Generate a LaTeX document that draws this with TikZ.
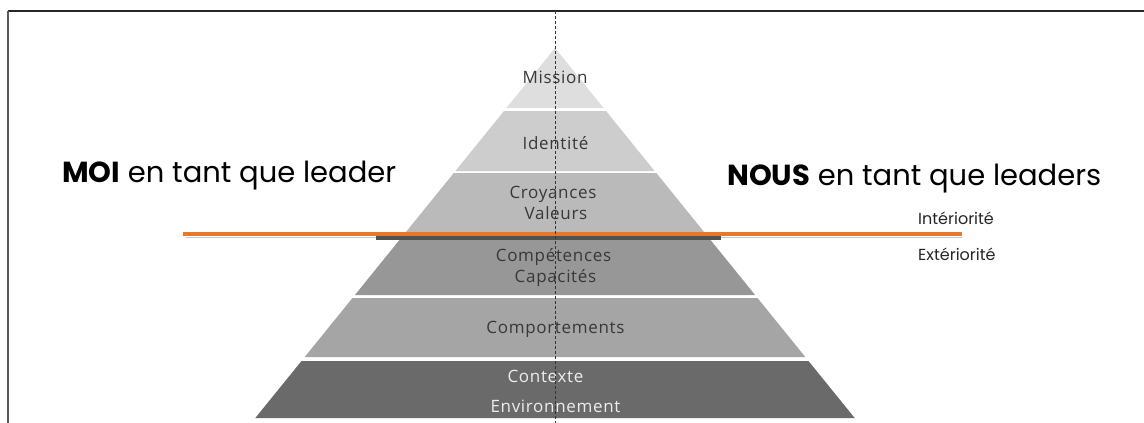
\documentclass[tikz,border=0pt]{standalone}
\usepackage{fontspec}
\setmainfont{Poppins}
\newfontfamily\labelfont[LetterSpace=4]{Open Sans}
\definecolor{bandA}{HTML}{DEDEDE}
\definecolor{bandB}{HTML}{CDCDCD}
\definecolor{bandC}{HTML}{BABABA}
\definecolor{bandD}{HTML}{979797}
\definecolor{bandE}{HTML}{A5A5A5}
\definecolor{bandF}{HTML}{6A6A6A}
\definecolor{limit}{HTML}{E8782A}
\tikzset{
  bandtext/.style={font=\labelfont\fontsize{17}{19}\selectfont, text=black!78, inner sep=0pt},
  sidetext/.style={font=\fontsize{29}{32}\selectfont, anchor=base west, inner sep=0pt},
  smalltext/.style={font=\fontsize{16}{18}\selectfont, anchor=base west, inner sep=0pt, text=black!85}
}
\begin{document}
\begin{tikzpicture}[line cap=butt, line join=round, x=1pt, y=-1pt]
                \useasboundingbox (0, 0) rectangle (1144, 423);

                % Frame
                \draw[line width=1.2pt, black!85] (8, 11) -- (1144, 11);
                \draw[line width=1.5pt, black!65] (8, 11) -- (8, 423);

                % Band 1
                \fill[bandA] (555, 48) -- (603.6, 108) -- (506.4, 108) -- cycle;
                \node[bandtext] (mission) at (555, 77) {Mission};

                % Band 2
                \fill[bandB] (504.0, 111) -- (606.0, 111) -- (654.6, 171) -- (455.4, 171) -- cycle;
                \node[bandtext] (identite) at (555.5, 143) {Identité};

                % Band 3
                \fill[bandC] (453.8, 173) -- (656.3, 173) -- (705.7, 234) -- (404.3, 234) -- cycle;
                \node[bandtext] (croyances) at (553, 194) {Croyances};
                \node[bandtext] (valeurs) at (556, 213) {Valeurs};

                % Band 4
                \fill[bandD] (402.7, 236) -- (707.3, 236) -- (755.1, 295) -- (354.9, 295) -- cycle;
                \node[bandtext] (competences) at (553.5, 257) {Compétences};
                \node[bandtext] (capacites) at (555.5, 278) {Capacités};

                % Band 5
                \fill[bandE] (352.5, 298) -- (757.5, 298) -- (805.3, 357) -- (304.7, 357) -- cycle;
                \node[bandtext] (comportements) at (555.5, 329) {Comportements};

                % Band 6
                \fill[bandF] (301.5, 361) -- (808.5, 361) -- (854.7, 418) -- (255.3, 418) -- cycle;
                \node[bandtext, text=white!93!black] (contexte) at (545.5, 376) {Contexte};
                \node[bandtext, text=white!93!black] (environnement) at (555.5, 406) {Environnement};

                % Limit line
                \fill[black!68] (376, 235) rectangle (721, 240);
                \draw[line width=1.5pt, black!22] (186, 237.5) -- (376, 237.5) (721, 237.5) -- (962, 237.5);
                \draw[line width=4pt, limit] (183, 234) -- (962, 234);

                % Side texts
                \node[sidetext] (moi) at (62, 182) {\textbf{MOI} en tant que leader};
                \node[sidetext] (nous) at (727, 185) {\textbf{NOUS} en tant que leaders};
                \node[smalltext] (interieur) at (918, 224) {Intériorité};
                \node[smalltext] (exterieur) at (918, 260) {Extériorité};

                % Axis
                \draw[densely dashed, line width=0.6pt, black!80] (555, 11) -- (555, 423);
            \end{tikzpicture}
\end{document}
